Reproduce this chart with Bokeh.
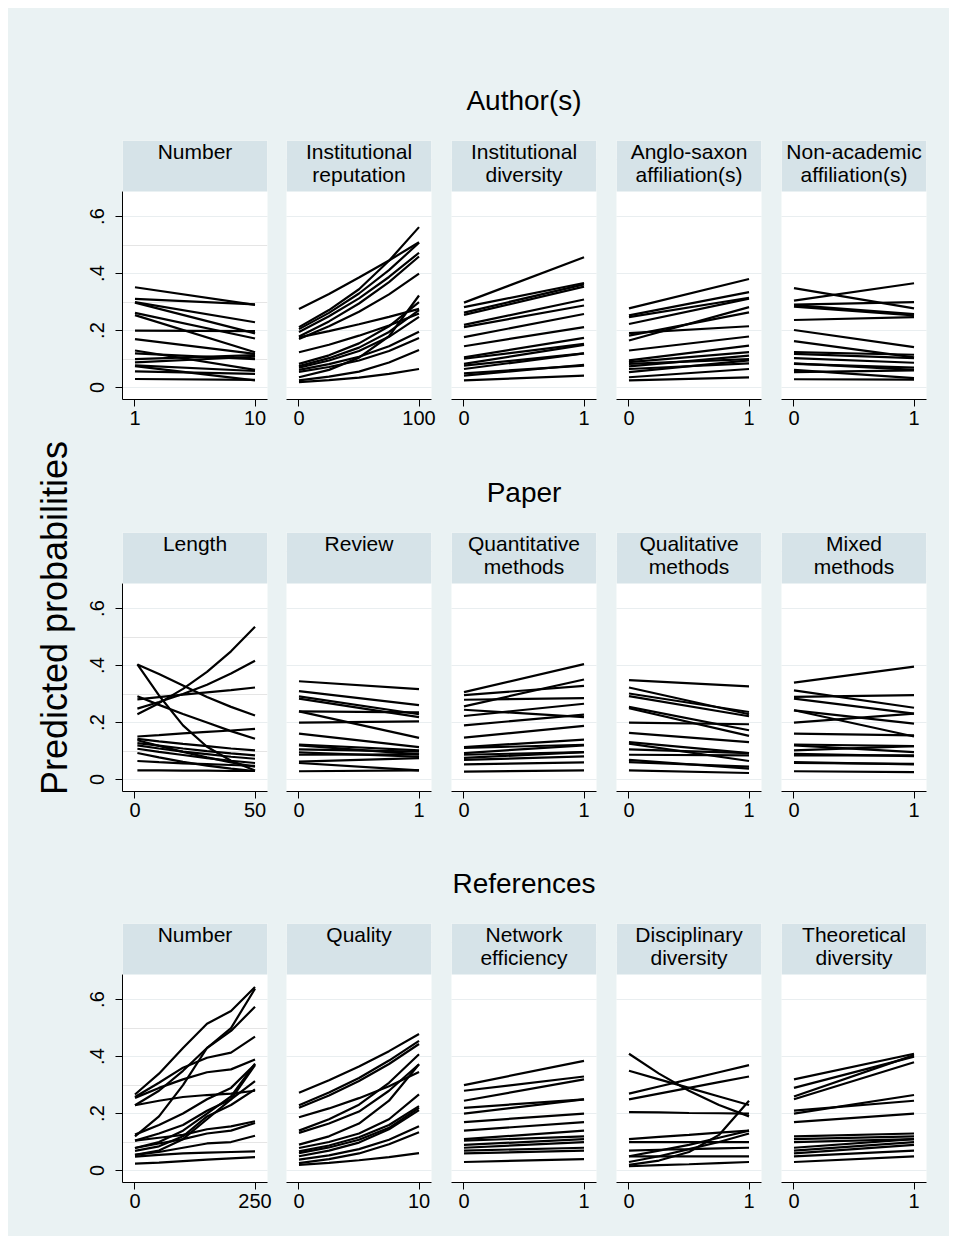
from bokeh.plotting import figure
from bokeh.layouts import row, column
from bokeh.models import (Range1d, FixedTicker, LinearAxis, Grid, BoxAnnotation,
                          Label, Title, CustomJSTickFormatter, ColumnDataSource)
from bokeh.embed import file_html
from bokeh.resources import INLINE

# ---------------- data ----------------
group_titles = ["Author(s)", "Paper", "References"]

panel_titles = [
    "Number", "Institutional\nreputation", "Institutional\ndiversity",
    "Anglo-saxon\naffiliation(s)", "Non-academic\naffiliation(s)",
    "Length", "Review", "Quantitative\nmethods", "Qualitative\nmethods", "Mixed\nmethods",
    "Number", "Quality", "Network\nefficiency", "Disciplinary\ndiversity", "Theoretical\ndiversity",
]

x_ticks = [[1, 10], [0, 100], [0, 1], [0, 1], [0, 1],
           [0, 50], [0, 1], [0, 1], [0, 1], [0, 1],
           [0, 250], [0, 10], [0, 1], [0, 1], [0, 1]]

y_ticks = [0, 0.2, 0.4, 0.6]

auth_number_x = [1, 10]
auth_number_y = [
    [0.352, 0.290], [0.311, 0.292], [0.300, 0.229], [0.298, 0.190], [0.262, 0.172],
    [0.254, 0.124], [0.200, 0.198], [0.170, 0.118], [0.130, 0.062], [0.120, 0.100],
    [0.100, 0.114], [0.088, 0.108], [0.078, 0.058], [0.075, 0.025], [0.057, 0.048],
    [0.030, 0.027],
]

inst_rep_x = [0, 25, 50, 75, 100]
inst_rep_y = [
    [0.276, 0.328, 0.386, 0.446, 0.510], [0.212, 0.272, 0.345, 0.445, 0.563],
    [0.205, 0.262, 0.330, 0.412, 0.508], [0.195, 0.250, 0.313, 0.388, 0.473],
    [0.179, 0.232, 0.295, 0.370, 0.460], [0.170, 0.215, 0.266, 0.327, 0.400],
    [0.176, 0.198, 0.222, 0.248, 0.276], [0.124, 0.150, 0.182, 0.218, 0.260],
    [0.083, 0.113, 0.155, 0.215, 0.300], [0.075, 0.103, 0.140, 0.195, 0.272],
    [0.070, 0.095, 0.128, 0.178, 0.248], [0.062, 0.082, 0.108, 0.145, 0.196],
    [0.055, 0.072, 0.095, 0.128, 0.174], [0.036, 0.062, 0.105, 0.180, 0.323],
    [0.025, 0.038, 0.056, 0.088, 0.132], [0.019, 0.026, 0.035, 0.048, 0.065],
]

inst_div_x = [0, 1]
inst_div_y = [
    [0.298, 0.457], [0.282, 0.367], [0.263, 0.362], [0.255, 0.354], [0.220, 0.309],
    [0.212, 0.288], [0.177, 0.258], [0.145, 0.212], [0.106, 0.174], [0.101, 0.153],
    [0.083, 0.150], [0.077, 0.120], [0.065, 0.120], [0.050, 0.077], [0.042, 0.080],
    [0.025, 0.042],
]

anglo_x = [0, 1]
anglo_y = [
    [0.278, 0.381], [0.253, 0.335], [0.247, 0.315], [0.223, 0.312], [0.191, 0.215],
    [0.182, 0.264], [0.165, 0.282], [0.130, 0.179], [0.095, 0.147], [0.089, 0.124],
    [0.083, 0.100], [0.074, 0.112], [0.065, 0.085], [0.054, 0.095], [0.036, 0.065],
    [0.025, 0.036],
]

nonacad_x = [0, 1]
nonacad_y = [
    [0.349, 0.278], [0.305, 0.366], [0.291, 0.300], [0.284, 0.253], [0.289, 0.258],
    [0.237, 0.247], [0.202, 0.142], [0.163, 0.106], [0.124, 0.115], [0.118, 0.103],
    [0.103, 0.087], [0.085, 0.062], [0.083, 0.070], [0.062, 0.033], [0.054, 0.060],
    [0.029, 0.028],
]

length_x = [1, 10, 20, 30, 40, 50]
length_y = [
    [0.404, 0.295, 0.190, 0.115, 0.066, 0.032],
    [0.404, 0.370, 0.330, 0.290, 0.255, 0.225],
    [0.229, 0.268, 0.318, 0.378, 0.450, 0.536],
    [0.249, 0.272, 0.300, 0.333, 0.372, 0.417],
    [0.281, 0.289, 0.298, 0.306, 0.314, 0.323],
    [0.292, 0.262, 0.230, 0.200, 0.170, 0.143],
    [0.151, 0.156, 0.162, 0.167, 0.172, 0.178],
    [0.143, 0.134, 0.125, 0.117, 0.109, 0.102],
    [0.138, 0.118, 0.097, 0.078, 0.060, 0.045],
    [0.128, 0.119, 0.109, 0.100, 0.092, 0.085],
    [0.120, 0.109, 0.098, 0.089, 0.080, 0.073],
    [0.108, 0.097, 0.086, 0.075, 0.066, 0.058],
    [0.093, 0.078, 0.062, 0.049, 0.038, 0.030],
    [0.065, 0.061, 0.057, 0.054, 0.051, 0.048],
    [0.032, 0.032, 0.031, 0.031, 0.030, 0.030],
]

review_x = [0, 1]
review_y = [
    [0.345, 0.317], [0.310, 0.261], [0.292, 0.229], [0.284, 0.219], [0.239, 0.146],
    [0.239, 0.236], [0.200, 0.204], [0.161, 0.114], [0.123, 0.102], [0.120, 0.088],
    [0.106, 0.098], [0.095, 0.080], [0.087, 0.088], [0.063, 0.075], [0.058, 0.032],
    [0.029, 0.032],
]

quant_x = [0, 1]
quant_y = [
    [0.307, 0.405], [0.296, 0.329], [0.280, 0.286], [0.257, 0.351], [0.245, 0.219],
    [0.223, 0.266], [0.190, 0.228], [0.147, 0.188], [0.114, 0.140], [0.111, 0.122],
    [0.093, 0.120], [0.087, 0.096], [0.076, 0.096], [0.069, 0.081], [0.053, 0.060],
    [0.028, 0.032],
]

qual_x = [0, 1]
qual_y = [
    [0.349, 0.327], [0.323, 0.229], [0.302, 0.237], [0.293, 0.222], [0.255, 0.173],
    [0.250, 0.153], [0.200, 0.194], [0.164, 0.131], [0.131, 0.093], [0.126, 0.065],
    [0.106, 0.093], [0.087, 0.085], [0.069, 0.038], [0.061, 0.045], [0.032, 0.023],
]

mixed_x = [0, 1]
mixed_y = [
    [0.340, 0.396], [0.313, 0.252], [0.290, 0.296], [0.284, 0.231], [0.243, 0.196],
    [0.243, 0.151], [0.200, 0.231], [0.161, 0.155], [0.123, 0.117], [0.120, 0.096],
    [0.102, 0.117], [0.090, 0.082], [0.085, 0.085], [0.061, 0.053], [0.058, 0.055],
    [0.029, 0.026],
]

ref_number_x = [0, 50, 100, 150, 200, 250]
ref_number_y = [
    [0.267, 0.340, 0.430, 0.515, 0.560, 0.644],
    [0.258, 0.308, 0.361, 0.396, 0.414, 0.470],
    [0.255, 0.290, 0.320, 0.345, 0.355, 0.390],
    [0.229, 0.280, 0.350, 0.430, 0.490, 0.575],
    [0.229, 0.245, 0.258, 0.265, 0.270, 0.280],
    [0.120, 0.190, 0.300, 0.430, 0.500, 0.638],
    [0.126, 0.160, 0.200, 0.250, 0.290, 0.373],
    [0.105, 0.130, 0.160, 0.210, 0.250, 0.314],
    [0.079, 0.100, 0.140, 0.200, 0.260, 0.375],
    [0.069, 0.085, 0.120, 0.190, 0.230, 0.285],
    [0.105, 0.115, 0.125, 0.145, 0.155, 0.173],
    [0.079, 0.095, 0.110, 0.130, 0.140, 0.167],
    [0.055, 0.065, 0.080, 0.095, 0.100, 0.122],
    [0.049, 0.055, 0.060, 0.063, 0.065, 0.067],
    [0.024, 0.028, 0.033, 0.038, 0.043, 0.047],
    [0.055, 0.070, 0.110, 0.180, 0.250, 0.370],
]

quality_x = [0, 2.5, 5, 7.5, 10]
quality_y = [
    [0.273, 0.317, 0.365, 0.419, 0.479], [0.229, 0.274, 0.325, 0.386, 0.455],
    [0.220, 0.263, 0.314, 0.374, 0.444], [0.187, 0.218, 0.254, 0.296, 0.346],
    [0.140, 0.180, 0.231, 0.308, 0.408], [0.132, 0.165, 0.207, 0.280, 0.373],
    [0.091, 0.120, 0.165, 0.245, 0.373], [0.079, 0.100, 0.130, 0.180, 0.267],
    [0.067, 0.088, 0.117, 0.160, 0.226], [0.061, 0.081, 0.108, 0.150, 0.220],
    [0.050, 0.070, 0.098, 0.145, 0.212], [0.038, 0.053, 0.075, 0.108, 0.155],
    [0.026, 0.040, 0.060, 0.092, 0.134], [0.020, 0.027, 0.036, 0.047, 0.061],
]

network_x = [0, 1]
network_y = [
    [0.300, 0.385], [0.280, 0.330], [0.245, 0.320], [0.220, 0.250], [0.200, 0.250],
    [0.170, 0.200], [0.140, 0.170], [0.110, 0.140], [0.105, 0.120], [0.090, 0.110],
    [0.080, 0.100], [0.070, 0.080], [0.060, 0.070], [0.030, 0.040],
]

discip_x = [0, 0.25, 0.5, 0.75, 1]
discip_y = [
    [0.410, 0.340, 0.280, 0.230, 0.190], [0.350, 0.320, 0.290, 0.260, 0.230],
    [0.270, 0.295, 0.320, 0.345, 0.370], [0.250, 0.270, 0.290, 0.310, 0.330],
    [0.205, 0.204, 0.202, 0.201, 0.200], [0.110, 0.118, 0.125, 0.133, 0.140],
    [0.100, 0.100, 0.100, 0.100, 0.100], [0.020, 0.035, 0.065, 0.125, 0.245],
    [0.050, 0.070, 0.090, 0.115, 0.140], [0.030, 0.050, 0.075, 0.100, 0.130],
    [0.070, 0.073, 0.075, 0.078, 0.080], [0.050, 0.050, 0.050, 0.050, 0.050],
    [0.015, 0.019, 0.022, 0.026, 0.030],
]

theor_x = [0, 1]
theor_y = [
    [0.320, 0.410], [0.290, 0.400], [0.260, 0.405], [0.250, 0.380], [0.200, 0.265],
    [0.210, 0.245], [0.170, 0.200], [0.120, 0.130], [0.110, 0.120], [0.100, 0.110],
    [0.080, 0.110], [0.070, 0.100], [0.060, 0.090], [0.050, 0.070], [0.030, 0.050],
]

panel_x = [auth_number_x, inst_rep_x, inst_div_x, anglo_x, nonacad_x,
           length_x, review_x, quant_x, qual_x, mixed_x,
           ref_number_x, quality_x, network_x, discip_x, theor_x]
panel_y = [auth_number_y, inst_rep_y, inst_div_y, anglo_y, nonacad_y,
           length_y, review_y, quant_y, qual_y, mixed_y,
           ref_number_y, quality_y, network_y, discip_y, theor_y]

# ---------------- style ----------------
BG = "#eaf2f3"
HEADER = "#d6e3e8"
GRID = "#e9eef0"
FONT = "Liberation Sans"
Y_LO, Y_PLOT_TOP, Y_HI = -0.042, 0.688, 0.867
BG_STYLE = {"background-color": BG}
TOP_BORDER = [132, 84, 84]
BOTTOM_BORDER = [49, 48, 53]

y_fmt = CustomJSTickFormatter(code="""
return tick == 0 ? "0" : tick.toFixed(1).replace(/^0/, "");
""")

rows = []
for r in range(3):
    figs = []
    for c in range(5):
        i = r * 5 + c
        t0, t1 = x_ticks[i]
        span = t1 - t0
        p = figure(frame_width=145, frame_height=259,
                   min_border_left=44 if c == 0 else 9,
                   min_border_right=23 if c == 4 else (10 if c == 0 else 11),
                   min_border_top=TOP_BORDER[r],
                   min_border_bottom=BOTTOM_BORDER[r],
                   x_range=Range1d(t0 - 0.104 * span, t1 + 0.104 * span),
                   y_range=Range1d(Y_LO, Y_HI),
                   x_axis_location="below", y_axis_location=None,
                   toolbar_location=None, output_backend="svg")
        p.background_fill_color = "white"
        p.border_fill_color = BG
        p.outline_line_color = None
        p.xgrid.grid_line_color = None
        p.add_layout(Grid(dimension=1, ticker=FixedTicker(ticks=y_ticks),
                          grid_line_color=GRID, grid_line_width=1))

        xa = p.xaxis[0]
        xa.ticker = FixedTicker(ticks=[t0, t1])
        xa.axis_line_color = "black"
        xa.major_tick_line_color = "black"
        xa.major_tick_out = 7
        xa.major_tick_in = 0
        xa.major_label_standoff = 4
        xa.major_label_text_font = FONT
        xa.major_label_text_font_size = "20px"
        xa.major_label_text_color = "black"

        if c == 0:
            ya = LinearAxis(ticker=FixedTicker(ticks=y_ticks), formatter=y_fmt,
                            bounds=(Y_LO, Y_PLOT_TOP))
            ya.major_label_orientation = "vertical"
            ya.axis_line_color = "black"
            ya.major_tick_line_color = "black"
            ya.major_tick_out = 7
            ya.major_tick_in = 0
            ya.major_label_standoff = 11
            ya.major_label_text_font = FONT
            ya.major_label_text_font_size = "20px"
            ya.major_label_text_color = "black"
            p.add_layout(ya, "left")

        # header strip
        p.add_layout(BoxAnnotation(bottom=Y_PLOT_TOP, fill_color=HEADER, fill_alpha=1.0,
                                   line_color=None))
        p.add_layout(Label(x=(t0 + t1) / 2, y=Y_HI, text=panel_titles[i],
                           text_align="center", text_baseline="top", y_offset=1,
                           text_font=FONT, text_font_size="21px",
                           text_line_height=1.0, text_color="black"))

        xs = [panel_x[i]] * len(panel_y[i])
        src = ColumnDataSource(dict(xs=xs, ys=panel_y[i]))
        p.multi_line(xs="xs", ys="ys", source=src, line_color="black", line_width=2.2)

        if c == 2:
            p.add_layout(Title(text=group_titles[r], align="center", text_font=FONT,
                               text_font_size="28px", text_font_style="normal",
                               text_color="black", standoff=50), "above")
        figs.append(p)
    rows.append(row(*figs, spacing=0, styles=BG_STYLE))

ylab = figure(width=70, height=1228, min_border_left=66, min_border_right=0,
              min_border_top=0, min_border_bottom=9,
              x_axis_location=None, y_axis_location=None,
              toolbar_location=None, output_backend="svg")
ylab.background_fill_color = BG
ylab.border_fill_color = BG
ylab.outline_line_color = None
ylab.grid.visible = False
ylab.add_layout(Title(text="Predicted probabilities", align="center", text_font=FONT,
                      text_font_size="36px", text_font_style="normal",
                      text_color="black", standoff=0), "left")

layout = row(ylab, column(*rows, spacing=0, styles=BG_STYLE), spacing=0,
             styles=BG_STYLE, margin=(8, 0, 0, 8))

open("out.html", "w").write(file_html(layout, INLINE))
